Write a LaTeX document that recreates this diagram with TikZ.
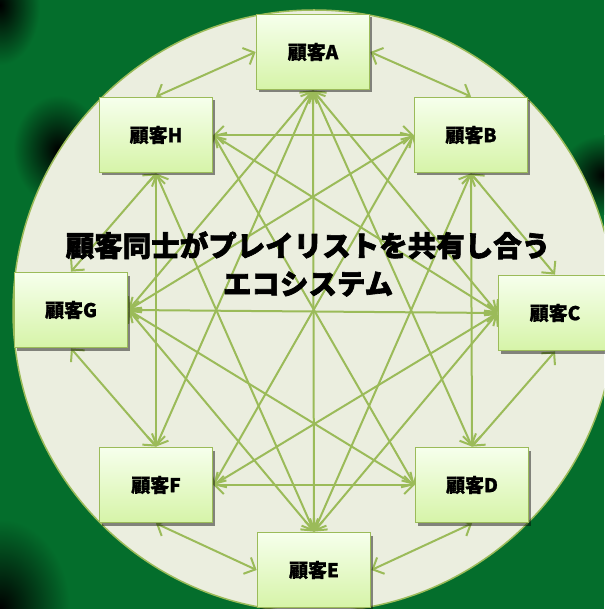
\documentclass[tikz,border=0pt]{standalone}
\usepackage{fontspec}
\setmainfont{Noto Sans CJK JP}[BoldFeatures={FakeBold=1}]
\newfontfamily\titlefont{Noto Sans CJK JP}[BoldFeatures={FakeBold=2.2}]
\usetikzlibrary{arrows.meta,shadows}
\definecolor{bggreen}{RGB}{4,110,44}
\definecolor{circfill}{RGB}{235,238,223}
\definecolor{olive}{RGB}{155,187,89}
\definecolor{ntop}{RGB}{246,255,236}
\definecolor{nbot}{RGB}{214,244,168}
\pgfdeclarelayer{bg}
\pgfdeclarelayer{lines}
\pgfsetlayers{bg,lines,main}
\begin{document}
\begin{tikzpicture}[x=1pt,y=-1pt,
  cust/.style={draw=olive,line width=1.8pt,minimum width=113pt,minimum height=75pt,
    inner sep=0pt,top color=ntop,bottom color=nbot,
    drop shadow={shadow xshift=2pt,shadow yshift=-3pt,opacity=0.45,fill=black},
    font=\bfseries\fontsize{19}{22}\selectfont},
  conn/.style={draw=olive,line width=2pt,
    {Straight Barb[length=9pt,width=18pt]}-{Straight Barb[length=9pt,width=18pt]}}
]
\useasboundingbox (0,0) rectangle (604,609);
\begin{pgfonlayer}{bg}
  \clip (0,0) rectangle (604,609);
  \fill[bggreen] (0,0) rectangle (604,609);
  \shade[inner color=black,outer color=bggreen] (0,5) ellipse[x radius=40pt,y radius=60pt];
  \shade[inner color=black,outer color=bggreen] (58,150) ellipse[x radius=45pt,y radius=55pt];
  \shade[inner color=black,outer color=bggreen] (604,175) ellipse[x radius=45pt,y radius=40pt];
  \shade[inner color=black,outer color=bggreen] (0,609) ellipse[x radius=70pt,y radius=90pt];
  \fill[circfill,draw=olive,line width=1.5pt] (314,311) circle[radius=301pt];
\end{pgfonlayer}

\node[cust] (A) at (313,52) {顧客A};
\node[cust] (B) at (471,135) {顧客B};
\node[cust] (C) at (555,313) {顧客C};
\node[cust] (D) at (472,485) {顧客D};
\node[cust] (E) at (314,570) {顧客E};
\node[cust] (F) at (156,485) {顧客F};
\node[cust] (G) at (71,310) {顧客G};
\node[cust] (H) at (156,135) {顧客H};

\node[font=\titlefont\bfseries\fontsize{28.5}{38}\selectfont,align=center] (title) at (308,264)
  {顧客同士がプレイリストを共有し合う\\エコシステム};

\begin{pgfonlayer}{lines}
  \draw[conn] (A.east) -- (B.north);
  \draw[conn] (A.west) -- (H.north);
  \draw[conn] (A.south) -- (C.west);
  \draw[conn] (A.south) -- (D.north);
  \draw[conn] (A.south) -- (E.north);
  \draw[conn] (A.south) -- (F.north);
  \draw[conn] (A.south) -- (G.east);
  \draw[conn] (B.south) -- (C.north);
  \draw[conn] (B.south) -- (D.north);
  \draw[conn] (B.south) -- (E.north);
  \draw[conn] (B.west) -- (F.east);
  \draw[conn] (B.west) -- (G.east);
  \draw[conn] (B.west) -- (H.east);
  \draw[conn] (C.south) -- (D.north);
  \draw[conn] (C.west) -- (E.north);
  \draw[conn] (C.west) -- (F.east);
  \draw[conn] (C.west) -- (G.east);
  \draw[conn] (C.west) -- (H.east);
  \draw[conn] (D.south) -- (E.east);
  \draw[conn] (D.west) -- (F.east);
  \draw[conn] (D.west) -- (G.east);
  \draw[conn] (D.west) -- (H.east);
  \draw[conn] (E.west) -- (F.south);
  \draw[conn] (E.north) -- (G.east);
  \draw[conn] (E.north) -- (H.south);
  \draw[conn] (F.north) -- (G.south);
  \draw[conn] (F.north) -- (H.south);
  \draw[conn] (G.north) -- (H.south);
\end{pgfonlayer}
\end{tikzpicture}
\end{document}
